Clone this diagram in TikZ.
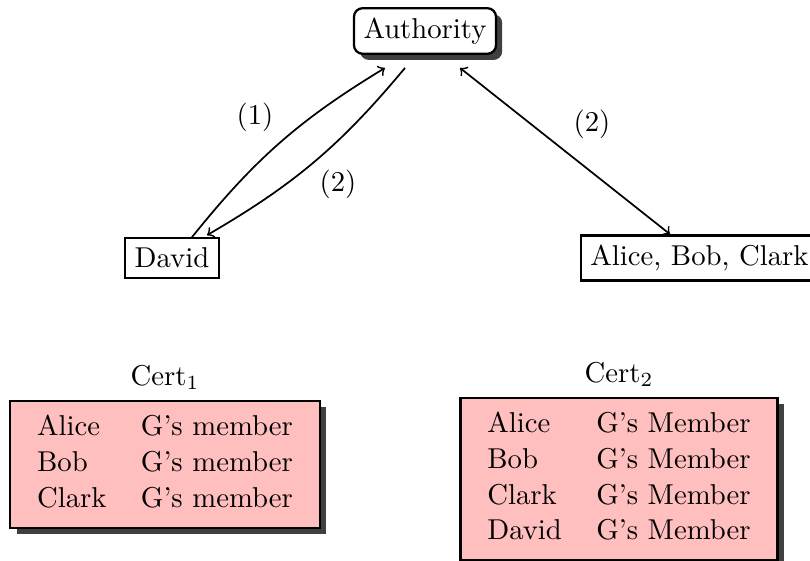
\documentclass[tikz,border=0pt]{standalone}
\usetikzlibrary{shadows,calc}
\begin{document}
\begin{tikzpicture}[x=0.3484pt,y=-0.3484pt,
  party/.style={draw, thick, rectangle, fill=white},
  authbox/.style={party, rounded corners=3pt,
    drop shadow={fill=black!75, opacity=1}},
  certbox/.style={draw, thick, fill=red!25,
    drop shadow={fill=black!75, opacity=1}},
  link/.style={semithick},
  tag/.style={inner sep=1pt}]
  \useasboundingbox (0,0) rectangle (810,561);
  \clip (0,0) rectangle (810,561);
  \renewcommand{\arraystretch}{1.04}

  % parties
  \node[authbox] (auth) at (425,31) {Authority};
  \node[party] (david) at (172,258) {David};
  \node[party] (abc) at (699.5,258) {Alice, Bob, Clark};

  % exchanges
  \draw[link,->] ($(david.north)+(20,0)$) to[bend left=10] ($(auth.south)+(-40,13)$);
  \draw[link,->] ($(auth.south)+(-20,13)$) to[bend left=10] ($(david.north)+(35,-2)$);
  \draw[link,<->] ($(auth.south)+(35,13)$) -- ($(abc.north)+(-29.5,0)$);

  \node[tag] (l1) at (255,117) {(1)};
  \node[tag] (l2a) at (338,184) {(2)};
  \node[tag] (l2b) at (592,124) {(2)};

  % certificates
  \node[certbox, label={[name=cert1lbl]above:Cert$_1$}] (cert1) at (165,464.5) {%
    \begin{tabular}{ll}
      Alice & G's member\\
      Bob   & G's member\\
      Clark & G's member
    \end{tabular}};
  \node[certbox, label={[name=cert2lbl]above:Cert$_2$}] (cert2) at (619,479) {%
    \begin{tabular}{ll}
      Alice & G's Member\\
      Bob   & G's Member\\
      Clark & G's Member\\
      David & G's Member
    \end{tabular}};
\end{tikzpicture}
\end{document}
